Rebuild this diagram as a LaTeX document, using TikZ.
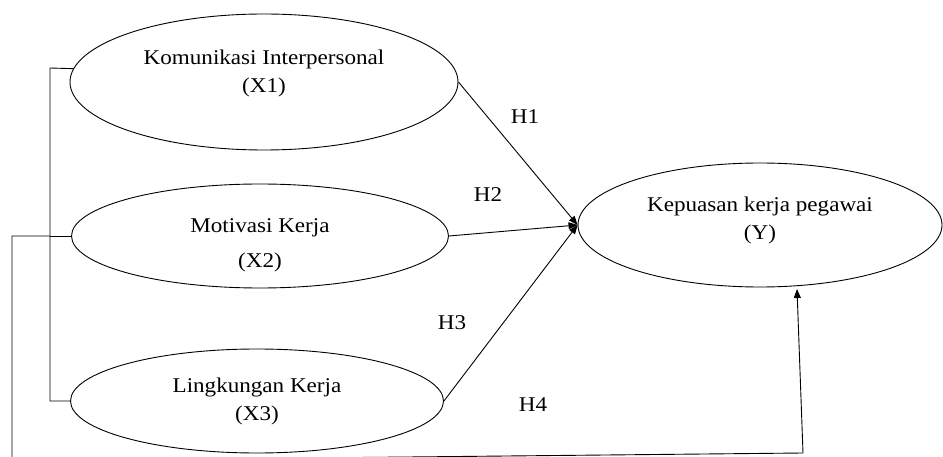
\documentclass[tikz,border=0pt]{standalone}
\usepackage{fontspec}
\setmainfont{Liberation Serif}[FakeStretch=1.1]
\usetikzlibrary{shapes.geometric,arrows.meta}
\begin{document}
\begin{tikzpicture}[x=1pt,y=-1pt,
  var/.style={draw,ellipse,line width=0.9pt,inner sep=0pt,align=center,
    font=\fontsize{21}{28}\selectfont},
  link/.style={line width=0.9pt},
  arr/.style={line width=0.9pt,-{Triangle[length=9pt,width=7pt]}},
  hlab/.style={font=\fontsize{21}{28}\selectfont}]
\useasboundingbox (0,0) rectangle (943,457);
\clip (0,0) rectangle (943,457);
\node[var,minimum width=388pt,minimum height=136pt,text depth=22pt] (X1) at (264,82) {Komunikasi Interpersonal\\(X1)};
\node[var,minimum width=377pt,minimum height=104pt] (X2) at (260,236) {\rule{0pt}{32pt}Motivasi Kerja\\[7pt](X2)};
\node[var,minimum width=373pt,minimum height=104pt] (X3) at (257,401) {Lingkungan Kerja\\(X3)};
\node[var,minimum width=364pt,minimum height=124pt,text depth=14pt] (Y) at (760,225) {Kepuasan kerja pegawai\\(Y)};
\node[hlab] (h1) at (525,117) {H1};
\node[hlab] (h2) at (488,195) {H2};
\node[hlab] (h3) at (452,323) {H3};
\node[hlab] (h4) at (533,405) {H4};
\draw[arr] (X1.east) -- (Y.west);
\draw[arr] (X2.east) -- (Y.west);
\draw[arr] (X3.east) -- (Y.west);
\coordinate (bt) at (50,68);
\coordinate (bb) at (50,401);
\coordinate (bm) at (50,236);
\coordinate (l0) at (12,236);
\coordinate (l1) at (12,461);
\coordinate (r0) at (803,453);
\coordinate (yb) at (797,289);
\draw[link] (X1.176) -- (bt) -- (bb) -- (X3.west);
\draw[link] (X2.west) -- (bm);
\draw[link] (bm) -- (l0) -- (l1) -- (r0);
\draw[arr] (r0) -- (yb);
\end{tikzpicture}
\end{document}
